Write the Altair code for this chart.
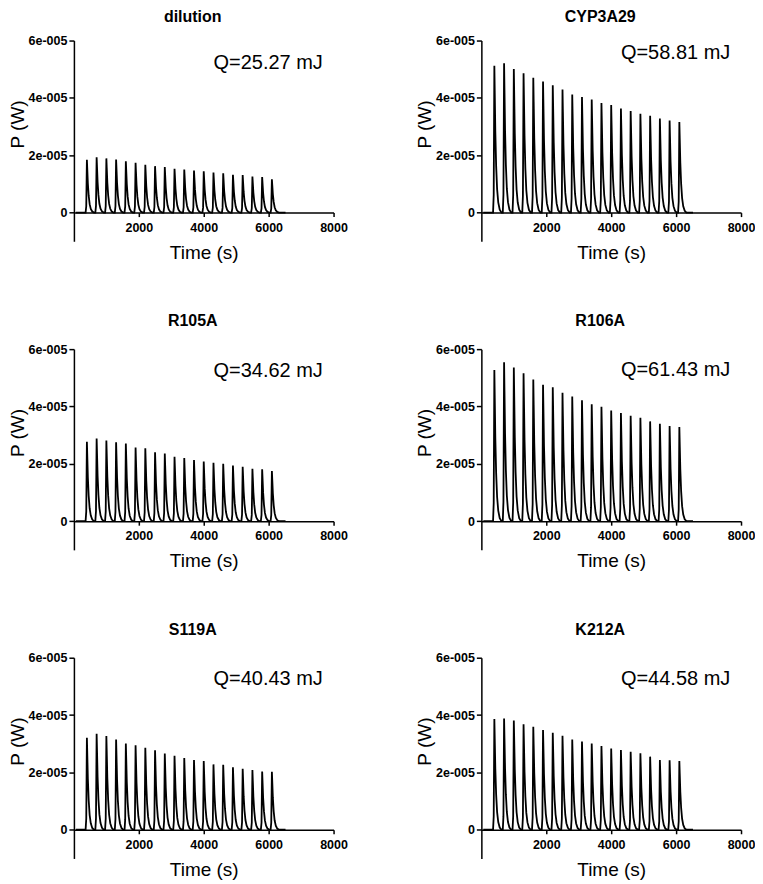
import altair as alt
import pandas as pd

# ---------------- data ----------------
panel_names = ["dilution", "CYP3A29", "R105A", "R106A", "S119A", "K212A"]
q_labels = ["Q=25.27 mJ", "Q=58.81 mJ", "Q=34.62 mJ", "Q=61.43 mJ", "Q=40.43 mJ", "Q=44.58 mJ"]
q_label_x = [4300, 4300, 4300, 4300, 4300, 4300]          # s
q_label_y = [5.22e-5, 5.58e-5, 5.24e-5, 5.26e-5, 5.24e-5, 5.25e-5]  # W

# injection peak times (s)
peak_times = [400, 700, 1000, 1300, 1600, 1900, 2200, 2500, 2800, 3100,
              3400, 3700, 4000, 4300, 4600, 4900, 5200, 5500, 5800, 6100]

# peak heights (units of 1e-5 W)
h_dilution = [1.84, 1.93, 1.89, 1.85, 1.79, 1.74, 1.67, 1.62, 1.59, 1.53,
              1.50, 1.47, 1.44, 1.40, 1.37, 1.32, 1.31, 1.26, 1.24, 1.16]
h_cyp3a29 = [5.12, 5.21, 5.01, 4.86, 4.70, 4.57, 4.44, 4.29, 4.12, 4.03,
             3.94, 3.82, 3.75, 3.63, 3.54, 3.45, 3.38, 3.28, 3.21, 3.16]
h_r105a = [2.77, 2.88, 2.81, 2.75, 2.71, 2.57, 2.54, 2.40, 2.36, 2.25,
           2.20, 2.13, 2.08, 2.04, 2.00, 1.94, 1.90, 1.83, 1.81, 1.75]
h_r106a = [5.27, 5.54, 5.36, 5.16, 4.94, 4.76, 4.67, 4.48, 4.35, 4.22,
           4.08, 3.99, 3.86, 3.77, 3.68, 3.61, 3.48, 3.40, 3.32, 3.28]
h_s119a = [3.21, 3.35, 3.27, 3.15, 3.01, 2.95, 2.86, 2.77, 2.66, 2.58,
           2.50, 2.43, 2.40, 2.28, 2.27, 2.18, 2.13, 2.08, 2.03, 2.02]
h_k212a = [3.86, 3.88, 3.81, 3.68, 3.59, 3.48, 3.38, 3.28, 3.15, 3.08,
           3.01, 2.92, 2.83, 2.78, 2.72, 2.67, 2.55, 2.43, 2.42, 2.40]
all_heights = [h_dilution, h_cyp3a29, h_r105a, h_r106a, h_s119a, h_k212a]

# shape of one injection peak (time offset from peak, fraction of height)
shape_dt = [-40, -20, -8, 0, 12, 30, 55, 85, 120, 165, 220]
shape_frac = [0.0, 0.12, 0.65, 1.0, 0.82, 0.55, 0.32, 0.16, 0.07, 0.02, 0.0]
trace_start = 60
trace_end = 6520

y_ticks = [0, 2e-5, 4e-5, 6e-5]
x_ticks = [2000, 4000, 6000, 8000]
y_title = "P (W)"
x_title = "Time (s)"

FONT = "Liberation Sans"
W, H = 260, 201
Y_MIN, Y_MAX = -1e-5, 6e-5
X_AXIS_OFFSET = -H * (0 - Y_MIN) / (Y_MAX - Y_MIN)


def trace_frame(heights):
    rows = [{"t": trace_start, "p": 0.0}]
    for pt, h in zip(peak_times, heights):
        for dt, f in zip(shape_dt, shape_frac):
            rows.append({"t": pt + dt, "p": h * 1e-5 * f})
    rows.append({"t": trace_end, "p": 0.0})
    return pd.DataFrame(rows)


def panel(i, title_offset):
    df = trace_frame(all_heights[i])
    x = alt.X("t:Q",
              scale=alt.Scale(domain=[0, 8000], nice=False),
              axis=alt.Axis(values=x_ticks, format="d", title=x_title,
                            offset=X_AXIS_OFFSET, tickSize=4, labelPadding=4.5,
                            labelFlush=False, titlePadding=9.5))
    y = alt.Y("p:Q",
              scale=alt.Scale(domain=[Y_MIN, Y_MAX], nice=False, zero=False),
              axis=alt.Axis(values=y_ticks, title=None, tickSize=5,
                            labelPadding=2, labelFlush=False,
                            labelExpr="datum.value == 0 ? '0' : (round(datum.value * 1e5) + 'e-005')"))
    line = alt.Chart(df).mark_line(color="black", strokeWidth=1.8).encode(x=x, y=y)
    tdf = pd.DataFrame({"t": [q_label_x[i]], "p": [q_label_y[i]], "label": [q_labels[i]]})
    text = alt.Chart(tdf).mark_text(align="left", baseline="middle", font=FONT,
                                    fontSize=20, color="black").encode(
        x="t:Q", y="p:Q", text="label:N")
    ytitle = alt.Chart(pd.DataFrame({"label": [y_title]})).mark_text(
        angle=270, align="center", baseline="middle", font=FONT, fontSize=19,
        color="black").encode(x=alt.value(-56), y=alt.value(84), text="label:N")
    return alt.layer(line, text, ytitle).properties(
        width=W, height=H,
        title=alt.TitleParams(panel_names[i], font=FONT, fontSize=16,
                              fontWeight="bold", color="black",
                              offset=title_offset, dx=-11))


rows = []
for r in range(3):
    off = 10 if r == 0 else 14
    rows.append(alt.hconcat(panel(2 * r, off), panel(2 * r + 1, off), spacing=69))

chart = alt.vconcat(*rows, spacing=51).properties(
    padding={"left": 1, "top": 0, "right": 0, "bottom": 0}
).configure_view(stroke=None).configure_axis(
    grid=False,
    domainColor="black", domainWidth=1.5,
    tickColor="black", tickWidth=1.5,
    labelFont=FONT, labelFontWeight="bold", labelFontSize=12.5, labelColor="black",
    titleFont=FONT, titleFontWeight="normal", titleFontSize=19, titleColor="black",
)

chart.save("out.html", embed_options={"renderer": "svg", "actions": False})
